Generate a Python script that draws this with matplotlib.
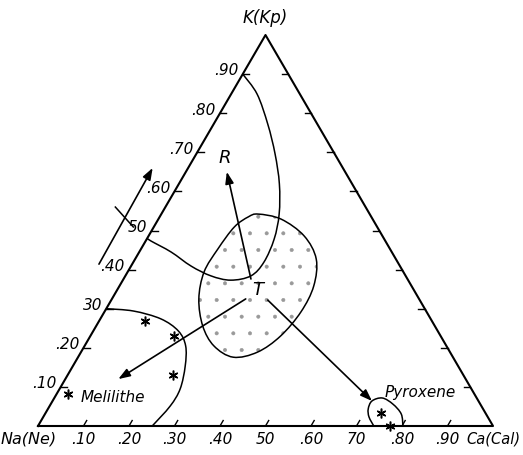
import numpy as np
import matplotlib.pyplot as plt
from matplotlib.path import Path
from matplotlib.patches import PathPatch

plt.rcParams['font.family'] = ['Liberation Sans Narrow', 'DejaVu Sans']
plt.rcParams['font.style'] = 'italic'
plt.rcParams['hatch.linewidth'] = 0.4

H = np.sqrt(3) / 2

# all points are (Ca, K) fractions, Na = 1 - Ca - K
ticks = np.arange(1, 10) / 10
base_labels = [".10", ".20", ".30", ".40", "50", ".60", "70", ".80", ".90"]
left_labels = [".10", ".20", "30", ".40", "50", ".60", ".70", ".80", ".90"]

# boundary of the R field (from K .90 round to K .48)
field_ca = [0.0, 0.057, 0.119, 0.173, 0.221, 0.259, 0.280, 0.287, 0.276,
            0.237, 0.188, 0.132, 0.070, 0.012, 0.0]
field_k = [0.90, 0.849, 0.772, 0.696, 0.619, 0.542, 0.478, 0.419, 0.384,
           0.373, 0.384, 0.409, 0.445, 0.473, 0.48]

# stippled region round T
blob_ca = [0.213, 0.270, 0.342, 0.398, 0.427, 0.432, 0.418, 0.388,
           0.341, 0.284, 0.234, 0.191, 0.168, 0.169, 0.177, 0.195]
blob_k = [0.542, 0.529, 0.486, 0.427, 0.358, 0.292, 0.230, 0.189,
          0.176, 0.205, 0.256, 0.325, 0.394, 0.453, 0.509, 0.535]

# melilithe field
mel_ca = [0.0, 0.063, 0.133, 0.187, 0.222, 0.247, 0.265, 0.265, 0.251]
mel_k = [0.30, 0.294, 0.274, 0.243, 0.205, 0.153, 0.095, 0.051, 0.0]
mel_pts_ca = [0.100, 0.183, 0.232, 0.025]
mel_pts_k = [0.269, 0.230, 0.130, 0.082]

# pyroxene field
pyr_ca = [0.738, 0.716, 0.704, 0.702, 0.721, 0.752, 0.783, 0.802]
pyr_k = [0.0, 0.023, 0.0435, 0.064, 0.0716, 0.056, 0.0307, 0.0]
pyr_pts_ca = [0.737, 0.774]
pyr_pts_k = [0.033, 0.0]

# arrows: start (Ca, K) -> tip (Ca, K)
T = (0.280, 0.376)
arrows = [
    (T, (0.090, 0.650)),
    ((0.294, 0.325), (0.1165, 0.120)),
    ((0.344, 0.322), (0.702, 0.064)),
    ((-0.073, 0.414), (-0.078, 0.660)),
]
cross_ca = [-0.110, -0.045]
cross_k = [0.560, 0.509]


def xy(c, k):
    c = np.asarray(c, float)
    k = np.asarray(k, float)
    return c + k / 2, k * H


def smooth(xs, ys, closed=False):
    p = np.column_stack([xs, ys])
    if closed:
        p = np.vstack([p, p[:1]])
    n = len(p)
    verts = [p[0]]
    codes = [Path.MOVETO]
    for i in range(n - 1):
        p0 = p[i - 1] if i > 0 else (p[-2] if closed else p[0])
        p3 = p[i + 2] if i + 2 < n else (p[1] if closed else p[-1])
        verts += [p[i] + (p[i + 1] - p0) / 6, p[i + 1] - (p3 - p[i]) / 6, p[i + 1]]
        codes += [Path.CURVE4] * 3
    return Path(verts, codes)


fig = plt.figure(figsize=(5.23, 4.56), dpi=100)
ax = fig.add_axes([38 / 523, 29 / 456, 455 / 523, 391 / 456])
ax.set_xlim(0, 1)
ax.set_ylim(0, H)
ax.axis('off')

# triangle
ax.plot([0, 1, 0.5, 0], [0, 0, H, 0], color='k', lw=1.5, clip_on=False)

# ticks
tl = 0.014
for t in ticks:
    ax.plot([t, t + tl * 0.5], [0, tl * H], color='k', lw=1)
    x, y = xy(0, t)
    ax.plot([x, x + tl], [y, y], color='k', lw=1)
    x, y = xy(1 - t, t)
    ax.plot([x, x - tl], [y, y], color='k', lw=1)

for t, s in zip(ticks, base_labels):
    ax.annotate(s, (t, 0), xytext=(0, -9), textcoords='offset points',
                ha='center', va='center', fontsize=11, annotation_clip=False)
for t, s in zip(ticks, left_labels):
    ax.annotate(s, xy(0, t), xytext=(-3, 3), textcoords='offset points',
                ha='right', va='center', fontsize=11, annotation_clip=False)

ax.annotate("Na(Ne)", (0, 0), xytext=(-27, -9), textcoords='offset points',
            ha='left', va='center', fontsize=11.5, annotation_clip=False)
ax.annotate("Ca(Cal)", (1, 0), xytext=(20, -9), textcoords='offset points',
            ha='right', va='center', fontsize=10.5, annotation_clip=False)
ax.annotate("K(Kp)", (0.5, H), xytext=(0, 13), textcoords='offset points',
            ha='center', va='center', fontsize=12, annotation_clip=False)

# stippled region and outline
bx, by = xy(blob_ca, blob_k)
ax.add_patch(PathPatch(smooth(bx, by, closed=True), facecolor='none',
                       edgecolor='0.6', lw=0, hatch='.'))
ax.add_patch(PathPatch(smooth(bx, by, closed=True), facecolor='none',
                       edgecolor='k', lw=1.1))

for cs, ks in [(field_ca, field_k), (mel_ca, mel_k), (pyr_ca, pyr_k)]:
    px, py = xy(cs, ks)
    ax.add_patch(PathPatch(smooth(px, py), facecolor='none', edgecolor='k', lw=1.1))

for (c0, k0), (c1, k1) in arrows:
    ax.annotate('', xy=xy(c1, k1), xytext=xy(c0, k0), annotation_clip=False,
                arrowprops=dict(arrowstyle='-|>,head_length=0.5,head_width=0.18',
                                color='k', lw=1.2, mutation_scale=14,
                                shrinkA=0, shrinkB=0))

# cross mark on the outer arrow
cx, cy = xy(cross_ca, cross_k)
ax.plot(cx, cy, color='k', lw=1.1, clip_on=False)

for cs, ks in [(mel_pts_ca, mel_pts_k), (pyr_pts_ca, pyr_pts_k)]:
    px, py = xy(cs, ks)
    ax.plot(px, py, ls='none', marker=(6, 2, 0), ms=7, mew=1.1, color='k',
            clip_on=False)

ax.text(*xy(0.066, 0.688), "R", fontsize=13, ha='center', va='center')
ax.text(*xy(0.308, 0.350), "T", fontsize=13, ha='center', va='center')
ax.text(*xy(0.128, 0.075), "Melilithe", fontsize=11, ha='center', va='center')
ax.text(*xy(0.795, 0.088), "Pyroxene", fontsize=11, ha='center', va='center')

fig.savefig("out.png", dpi=100)
